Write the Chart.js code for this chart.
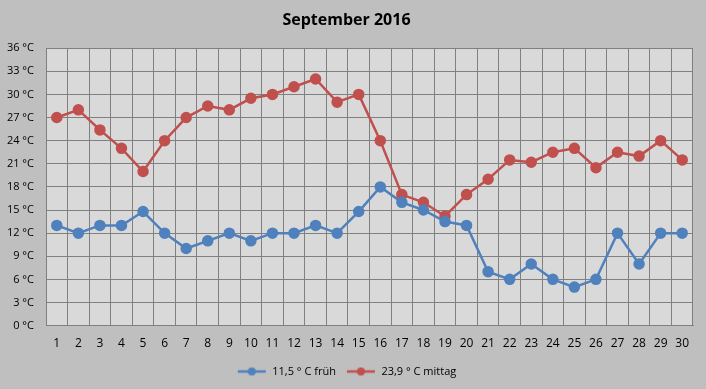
<!DOCTYPE html>
<html>
<head>
<meta charset="utf-8">
<script src="https://cdn.jsdelivr.net/npm/chart.js@4"></script>
<style>
  html, body { margin: 0; padding: 0; background: #bfbfbf; }
  #wrap { width: 706px; height: 389px; }
</style>
</head>
<body>
<div id="wrap"><canvas id="chart-area" width="706" height="389"></canvas></div>
<script>
var arrLabel = [];
for (var d = 1; d <= 30; d++) arrLabel.push(String(d));

var arrFrueh = [13, 12, 13, 13, 14.8, 12, 10, 11, 12, 11, 12, 12, 13, 12, 14.8,
                18, 16, 15, 13.5, 13, 7, 6, 8, 6, 5, 6, 12, 8, 12, 12];
var arrMittag = [27, 28, 25.4, 23, 20, 24, 27, 28.5, 28, 29.5, 30, 31, 32, 29, 30,
                 24, 17, 16, 14.2, 17, 19, 21.5, 21.2, 22.5, 23, 20.5, 22.5, 22, 24, 21.5];
var arrSeriesLabel = ['11,5 ° C früh', '23,9 ° C mittag'];
var blue = '#4f81bd';
var red = '#c0504d';
var fontFamily = "'Open Sans', 'DejaVu Sans', sans-serif";

function legendIcon(col) {
    var c = document.createElement('canvas');
    c.width = 30; c.height = 10;
    var g = c.getContext('2d');
    g.strokeStyle = col; g.lineWidth = 2.5;
    g.beginPath(); g.moveTo(1, 5); g.lineTo(29, 5); g.stroke();
    g.fillStyle = col;
    g.beginPath(); g.arc(15, 5, 4, 0, Math.PI * 2); g.fill();
    return c;
}

var bgPlugin = {
    id: 'bgPlugin',
    beforeDraw: function (chart) {
        var ctx = chart.ctx, a = chart.chartArea;
        ctx.save();
        ctx.fillStyle = '#bfbfbf';
        ctx.fillRect(0, 0, chart.width, chart.height);
        ctx.fillStyle = '#d9d9d9';
        ctx.fillRect(a.left, a.top, a.right - a.left, a.bottom - a.top);
        ctx.restore();
    }
};

var configLine = {
    type: 'line',
    data: {
        labels: arrLabel,
        datasets: [
            {
                data: arrFrueh,
                label: arrSeriesLabel[0],
                borderColor: blue,
                backgroundColor: blue,
                borderWidth: 2.5,
                pointRadius: 4.5,
                pointHoverRadius: 4.5,
                tension: 0
            }, {
                data: arrMittag,
                label: arrSeriesLabel[1],
                borderColor: red,
                backgroundColor: red,
                borderWidth: 2.5,
                pointRadius: 4.5,
                pointHoverRadius: 4.5,
                tension: 0
            }]
    },
    options: {
        responsive: false,
        animation: false,
        layout: { padding: { left: 0, right: 13, top: 0, bottom: 2 } },
        plugins: {
            title: {
                display: true,
                text: 'September 2016',
                color: '#000',
                font: { family: fontFamily, size: 16, weight: 'bold' },
                padding: { top: 11, bottom: 18 }
            },
            legend: {
                position: 'bottom',
                labels: {
                    usePointStyle: true,
                    pointStyleWidth: 30,
                    color: '#000',
                    font: { family: fontFamily, size: 11 },
                    padding: 10,
                    generateLabels: function (chart) {
                        return chart.data.datasets.map(function (ds, i) {
                            return {
                                text: ds.label,
                                datasetIndex: i,
                                pointStyle: legendIcon(ds.borderColor),
                                fontColor: '#000',
                                lineWidth: 0,
                                strokeStyle: 'transparent',
                                fillStyle: ds.borderColor
                            };
                        });
                    }
                }
            },
            tooltip: { enabled: false }
        },
        scales: {
            x: {
                offset: true,
                grid: { offset: true, color: '#808080', lineWidth: 1, drawTicks: false },
                border: { color: '#808080', width: 1 },
                ticks: { color: '#000', font: { family: fontFamily, size: 12 }, padding: 11, maxRotation: 0, autoSkip: false },
                afterFit: function (scale) { scale.height = scale.height - 6; }
            },
            y: {
                min: 0,
                max: 36,
                grid: { color: '#808080', lineWidth: 1, drawTicks: false },
                border: { color: '#808080', width: 1 },
                ticks: {
                    stepSize: 3,
                    color: '#000',
                    padding: 12,
                    font: { family: fontFamily, size: 11 },
                    callback: function (v) { return v + ' °C'; }
                },
                afterFit: function (scale) { scale.width = 46; }
            }
        }
    },
    plugins: [bgPlugin]
};

var myChart = new Chart(document.getElementById('chart-area').getContext('2d'), configLine);
</script>
</body>
</html>
